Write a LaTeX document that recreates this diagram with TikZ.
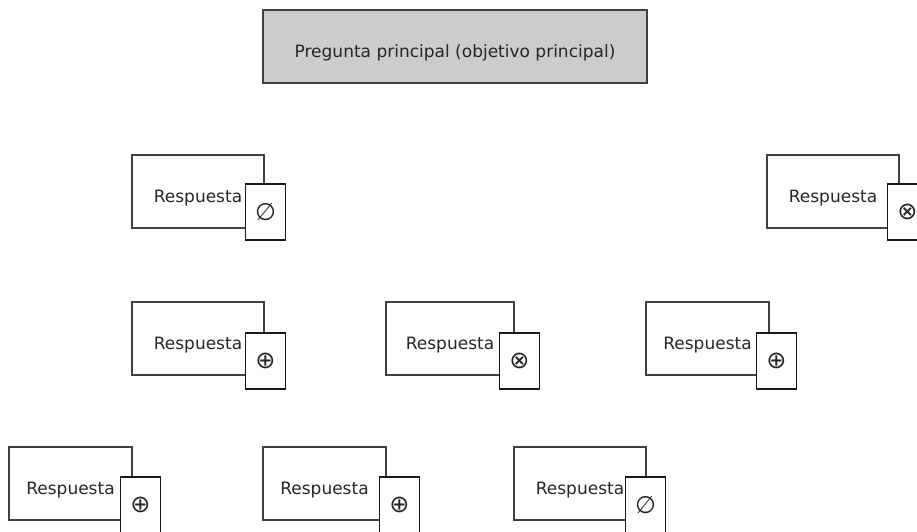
\documentclass[tikz,border=0pt]{standalone}
\usepackage{fontspec}
\setmainfont{DejaVu Sans}
\usepackage{xcolor}
\usepackage{tikz}

\begin{document}
\begin{tikzpicture}[
    x=1pt, y=1pt,
    box/.style={rectangle, draw=black!75, line width=1.1pt, minimum width=132pt, minimum height=73pt, inner sep=0pt, text height=22pt, text depth=0pt, text=black!85, font=\fontsize{17pt}{20pt}\selectfont},
    tag/.style={rectangle, draw=black!90, line width=1.8pt, fill=white, minimum width=40pt, minimum height=56pt, inner sep=0pt, anchor=north west, text=black!85, font=\fontsize{24pt}{26pt}\selectfont}
]
    \useasboundingbox (0,0) rectangle (917,-532);

    \node[box, fill=gray!40, minimum width=384pt, line width=1.4pt] (pregunta) at (455,-46.5) {Pregunta principal (objetivo principal)};

    % respuestas, fila 1
    \node[box] (resp1) at (198,-191.5) {Respuesta};
    \node[tag] (marca1) at ([shift={(-20,-29)}]resp1.north east) {∅};
    \node[box] (resp2) at (833,-191.5) {Respuesta};
    \node[tag] (marca2) at ([shift={(-13,-29)}]resp2.north east) {⊗};

    % fila 2
    \node[box] (resp3) at (198,-338.5) {Respuesta};
    \node[tag] (marca3) at ([shift={(-20,-31)}]resp3.north east) {⊕};
    \node[box, minimum width=128pt] (resp4) at (450,-338.5) {Respuesta};
    \node[tag] (marca4) at ([shift={(-16,-31)}]resp4.north east) {⊗};
    \node[box, minimum width=123pt] (resp5) at (707.5,-338.5) {Respuesta};
    \node[tag] (marca5) at ([shift={(-14,-31)}]resp5.north east) {⊕};

    % fila 3
    \node[box, minimum width=123pt] (resp6) at (70.5,-483.5) {Respuesta};
    \node[tag] (marca6) at ([shift={(-13,-30)}]resp6.north east) {⊕};
    \node[box, minimum width=123pt] (resp7) at (324.5,-483.5) {Respuesta};
    \node[tag] (marca7) at ([shift={(-8,-30)}]resp7.north east) {⊕};
    \node[box] (resp8) at (580,-483.5) {Respuesta};
    \node[tag] (marca8) at ([shift={(-22,-30)}]resp8.north east) {∅};
\end{tikzpicture}
\end{document}
